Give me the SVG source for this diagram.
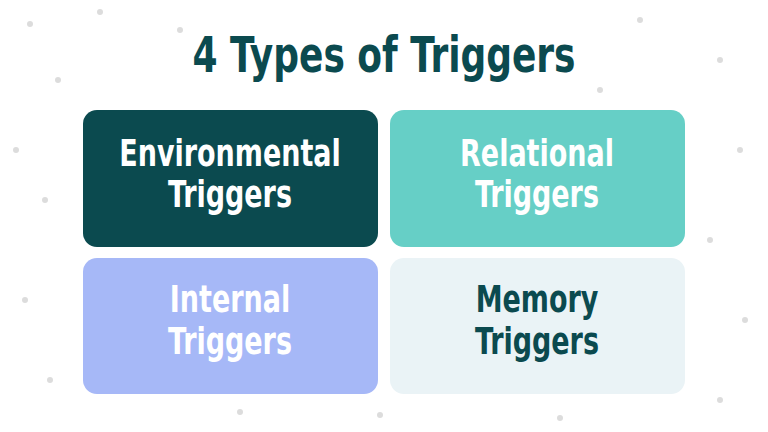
<svg xmlns="http://www.w3.org/2000/svg" width="768" height="432" viewBox="0 0 768 432">
<style>
.t{font-family:"DejaVu Sans Condensed","DejaVu Sans",sans-serif;font-weight:bold;font-stretch:condensed;text-anchor:middle}
.lbl{font-size:30px}
.d{fill:#dcdcdc}
</style>
<rect width="768" height="432" fill="#ffffff"/>
<g id="dots">
<circle class="d" cx="30" cy="24" r="3"/><circle class="d" cx="100" cy="12" r="3"/><circle class="d" cx="180" cy="30" r="3"/><circle class="d" cx="640" cy="20" r="3"/><circle class="d" cx="720" cy="60" r="3"/><circle class="d" cx="58" cy="80" r="3"/><circle class="d" cx="16" cy="150" r="3"/><circle class="d" cx="45" cy="200" r="3"/><circle class="d" cx="25" cy="300" r="3"/><circle class="d" cx="50" cy="380" r="3"/><circle class="d" cx="740" cy="150" r="3"/><circle class="d" cx="710" cy="240" r="3"/><circle class="d" cx="745" cy="320" r="3"/><circle class="d" cx="720" cy="400" r="3"/><circle class="d" cx="380" cy="415" r="3"/><circle class="d" cx="240" cy="412" r="3"/><circle class="d" cx="560" cy="418" r="3"/><circle class="d" cx="600" cy="90" r="3"/>
</g>
<text class="t" transform="translate(384,72) scale(1,1.25)" font-size="40" fill="#0B4A4F">4 Types of Triggers</text>
<g id="environmental">
<rect x="83" y="110" width="295" height="137" rx="14" fill="#0B4A4F"/>
<text class="t lbl" transform="translate(230,166) scale(1,1.25)" fill="#ffffff">Environmental</text>
<text class="t lbl" transform="translate(230,207) scale(1,1.25)" fill="#ffffff">Triggers</text>
</g>
<g id="relational">
<rect x="390" y="110" width="295" height="137" rx="14" fill="#66CFC6"/>
<text class="t lbl" transform="translate(537,166) scale(1,1.25)" fill="#ffffff">Relational</text>
<text class="t lbl" transform="translate(537,207) scale(1,1.25)" fill="#ffffff">Triggers</text>
</g>
<g id="internal">
<rect x="83" y="258" width="295" height="136" rx="14" fill="#A6B8F7"/>
<text class="t lbl" transform="translate(230,312) scale(1,1.25)" fill="#ffffff">Internal</text>
<text class="t lbl" transform="translate(230,354) scale(1,1.25)" fill="#ffffff">Triggers</text>
</g>
<g id="memory">
<rect x="390" y="258" width="295" height="136" rx="14" fill="#EAF3F6"/>
<text class="t lbl" transform="translate(537,312) scale(1,1.25)" fill="#0B4A4F">Memory</text>
<text class="t lbl" transform="translate(537,354) scale(1,1.25)" fill="#0B4A4F">Triggers</text>
</g>
<g id="connectors"/>
</svg>
